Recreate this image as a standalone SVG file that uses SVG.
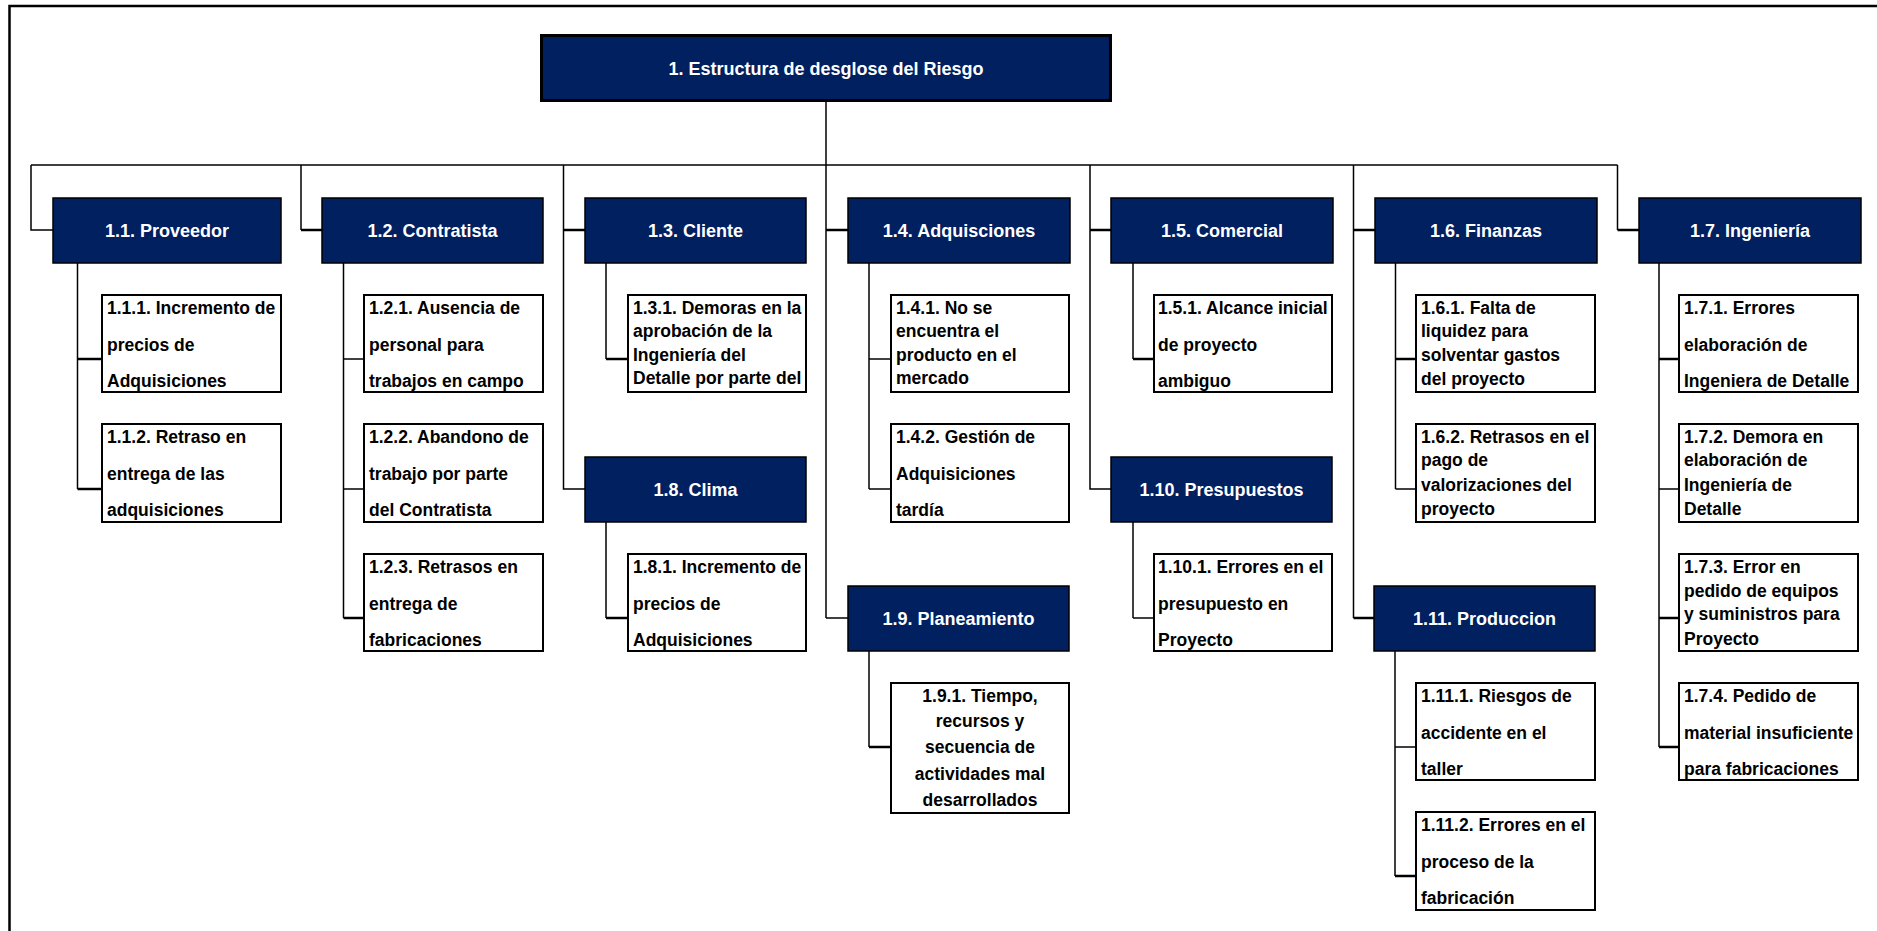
<svg xmlns="http://www.w3.org/2000/svg" width="1877" height="931" viewBox="0 0 1877 931">
<style>
.frame{fill:none;stroke:#000;stroke-width:2.5}
.root{fill:#002060;stroke:#000;stroke-width:3}
.hdr{fill:#002060;stroke:#000;stroke-width:1.5}
.box{fill:#fff;stroke:#000;stroke-width:2}
.ht{font-family:"Liberation Sans",Arial,sans-serif;font-weight:bold;font-size:18px;fill:#fff;text-anchor:middle}
.ct{font-family:"Liberation Sans",Arial,sans-serif;font-weight:bold;font-size:17.5px;fill:#000}
.cc{text-anchor:middle}
.ln{fill:none;stroke:#000;stroke-width:1.5}
.st{fill:none;stroke:#000;stroke-width:2.5}
</style>
<rect width="1877" height="931" fill="#fff"/>
<rect class="frame" x="9.5" y="6" width="1900" height="1000"/>
<g id="connectors">
<path class="ln" d="M826 102V618"/>
<path class="ln" d="M31 165H1617.5"/>
<path class="ln" d="M31 165V230H53"/>
<path class="ln" d="M301 165V230"/><path class="st" d="M301 230H322"/>
<path class="ln" d="M563.5 165V489H585"/><path class="st" d="M563.5 230H585"/>
<path class="st" d="M826 230H848"/><path class="ln" d="M826 618H848"/>
<path class="ln" d="M1090 165V489H1111"/><path class="st" d="M1090 230H1111"/>
<path class="ln" d="M1353.5 165V618"/><path class="st" d="M1353.5 230H1375"/><path class="st" d="M1353.5 618H1374"/>
<path class="ln" d="M1617.5 165V230"/><path class="st" d="M1617.5 230H1639"/>
<path class="ln" d="M77.5 263V489"/><path class="st" d="M77.5 359H102"/><path class="st" d="M77.5 489H102"/>
<path class="ln" d="M343.5 263V618"/><path class="ln" d="M343.5 359H364"/><path class="ln" d="M343.5 489H364"/><path class="st" d="M343.5 618H364"/>
<path class="ln" d="M606 263V359"/><path class="st" d="M606 359H628"/>
<path class="ln" d="M606 522V618"/><path class="st" d="M606 618H628"/>
<path class="ln" d="M869 263V489"/><path class="ln" d="M869 359H891"/><path class="ln" d="M869 489H891"/>
<path class="ln" d="M869 651V747"/><path class="st" d="M869 747H891"/>
<path class="ln" d="M1133 263V359"/><path class="st" d="M1133 359H1154"/>
<path class="ln" d="M1133 522V618"/><path class="ln" d="M1133 618H1154"/>
<path class="ln" d="M1395.5 263V489"/><path class="st" d="M1395.5 359H1416"/><path class="ln" d="M1395.5 489H1416"/>
<path class="ln" d="M1395 651V876"/><path class="ln" d="M1395 747H1416"/><path class="st" d="M1395 876H1416"/>
<path class="ln" d="M1659 263V747"/><path class="st" d="M1659 359H1679"/><path class="ln" d="M1659 489H1679"/><path class="st" d="M1659 618H1679"/><path class="st" d="M1659 747H1679"/>
</g>
<g id="n1"><rect class="root" x="541.5" y="35.5" width="569" height="65"/><text class="ht" x="826" y="75">1. Estructura de desglose del Riesgo</text></g>
<g id="n1-1"><rect class="hdr" x="53" y="198" width="228" height="65"/><text class="ht" x="167" y="237">1.1. Proveedor</text></g>
<g id="n1-2"><rect class="hdr" x="322" y="198" width="221" height="65"/><text class="ht" x="432.5" y="237">1.2. Contratista</text></g>
<g id="n1-3"><rect class="hdr" x="585" y="198" width="221" height="65"/><text class="ht" x="695.5" y="237">1.3. Cliente</text></g>
<g id="n1-4"><rect class="hdr" x="848" y="198" width="222" height="65"/><text class="ht" x="959" y="237">1.4. Adquisciones</text></g>
<g id="n1-5"><rect class="hdr" x="1111" y="198" width="222" height="65"/><text class="ht" x="1222" y="237">1.5. Comercial</text></g>
<g id="n1-6"><rect class="hdr" x="1375" y="198" width="222" height="65"/><text class="ht" x="1486" y="237">1.6. Finanzas</text></g>
<g id="n1-7"><rect class="hdr" x="1639" y="198" width="222" height="65"/><text class="ht" x="1750" y="237">1.7. Ingeniería</text></g>
<g id="n1-8"><rect class="hdr" x="585" y="457" width="221" height="65"/><text class="ht" x="695.5" y="496">1.8. Clima</text></g>
<g id="n1-9"><rect class="hdr" x="848" y="586" width="221" height="65"/><text class="ht" x="958.5" y="625">1.9. Planeamiento</text></g>
<g id="n1-10"><rect class="hdr" x="1111" y="457" width="221" height="65"/><text class="ht" x="1221.5" y="496">1.10. Presupuestos</text></g>
<g id="n1-11"><rect class="hdr" x="1374" y="586" width="221" height="65"/><text class="ht" x="1484.5" y="625">1.11. Produccion</text></g>

<g id="n1-1-1"><rect class="box" x="102" y="295" width="179" height="97"/><text class="ct" x="107"><tspan x="107" y="314">1.1.1. Incremento de</tspan><tspan x="107" y="350.5">precios de</tspan><tspan x="107" y="387">Adquisiciones</tspan></text></g>
<g id="n1-1-2"><rect class="box" x="102" y="424" width="179" height="98"/><text class="ct"><tspan x="107" y="443">1.1.2. Retraso en</tspan><tspan x="107" y="479.5">entrega de las</tspan><tspan x="107" y="516">adquisiciones</tspan></text></g>
<g id="n1-2-1"><rect class="box" x="364" y="295" width="179" height="97"/><text class="ct"><tspan x="369" y="314">1.2.1. Ausencia de</tspan><tspan x="369" y="350.5">personal para</tspan><tspan x="369" y="387">trabajos en campo</tspan></text></g>
<g id="n1-2-2"><rect class="box" x="364" y="424" width="179" height="98"/><text class="ct"><tspan x="369" y="443">1.2.2. Abandono de</tspan><tspan x="369" y="479.5">trabajo por parte</tspan><tspan x="369" y="516">del Contratista</tspan></text></g>
<g id="n1-2-3"><rect class="box" x="364" y="554" width="179" height="97"/><text class="ct"><tspan x="369" y="573">1.2.3. Retrasos en</tspan><tspan x="369" y="609.5">entrega de</tspan><tspan x="369" y="646">fabricaciones</tspan></text></g>
<g id="n1-3-1"><rect class="box" x="628" y="295" width="178" height="97"/><text class="ct"><tspan x="633" y="314">1.3.1. Demoras en la</tspan><tspan x="633" y="337">aprobación de la</tspan><tspan x="633" y="360.5">Ingeniería del</tspan><tspan x="633" y="384">Detalle por parte del</tspan></text></g>
<g id="n1-8-1"><rect class="box" x="628" y="554" width="178" height="97"/><text class="ct"><tspan x="633" y="573">1.8.1. Incremento de</tspan><tspan x="633" y="609.5">precios de</tspan><tspan x="633" y="646">Adquisiciones</tspan></text></g>
<g id="n1-4-1"><rect class="box" x="891" y="295" width="178" height="97"/><text class="ct"><tspan x="896" y="314">1.4.1. No se</tspan><tspan x="896" y="337">encuentra el</tspan><tspan x="896" y="360.5">producto en el</tspan><tspan x="896" y="384">mercado</tspan></text></g>
<g id="n1-4-2"><rect class="box" x="891" y="424" width="178" height="98"/><text class="ct"><tspan x="896" y="443">1.4.2. Gestión de</tspan><tspan x="896" y="479.5">Adquisiciones</tspan><tspan x="896" y="516">tardía</tspan></text></g>
<g id="n1-9-1"><rect class="box" x="891" y="683" width="178" height="130"/><text class="ct cc"><tspan x="980" y="702">1.9.1. Tiempo,</tspan><tspan x="980" y="727">recursos y</tspan><tspan x="980" y="753">secuencia de</tspan><tspan x="980" y="779.5">actividades mal</tspan><tspan x="980" y="806">desarrollados</tspan></text></g>
<g id="n1-5-1"><rect class="box" x="1154" y="295" width="178" height="97"/><text class="ct"><tspan x="1158" y="314">1.5.1. Alcance inicial</tspan><tspan x="1158" y="350.5">de proyecto</tspan><tspan x="1158" y="387">ambiguo</tspan></text></g>
<g id="n1-10-1"><rect class="box" x="1154" y="554" width="178" height="97"/><text class="ct"><tspan x="1158" y="573">1.10.1. Errores en el</tspan><tspan x="1158" y="609.5">presupuesto en</tspan><tspan x="1158" y="646">Proyecto</tspan></text></g>
<g id="n1-6-1"><rect class="box" x="1416" y="295" width="179" height="97"/><text class="ct"><tspan x="1421" y="314">1.6.1. Falta de</tspan><tspan x="1421" y="337">liquidez para</tspan><tspan x="1421" y="361">solventar gastos</tspan><tspan x="1421" y="385">del proyecto</tspan></text></g>
<g id="n1-6-2"><rect class="box" x="1416" y="424" width="179" height="98"/><text class="ct"><tspan x="1421" y="443">1.6.2. Retrasos en el</tspan><tspan x="1421" y="466">pago de</tspan><tspan x="1421" y="490.5">valorizaciones del</tspan><tspan x="1421" y="514.5">proyecto</tspan></text></g>
<g id="n1-11-1"><rect class="box" x="1416" y="683" width="179" height="97"/><text class="ct"><tspan x="1421" y="702">1.11.1. Riesgos de</tspan><tspan x="1421" y="738.5">accidente en el</tspan><tspan x="1421" y="775">taller</tspan></text></g>
<g id="n1-11-2"><rect class="box" x="1416" y="812" width="179" height="98"/><text class="ct"><tspan x="1421" y="831">1.11.2. Errores en el</tspan><tspan x="1421" y="867.5">proceso de la</tspan><tspan x="1421" y="904">fabricación</tspan></text></g>
<g id="n1-7-1"><rect class="box" x="1679" y="295" width="179" height="97"/><text class="ct"><tspan x="1684" y="314">1.7.1. Errores</tspan><tspan x="1684" y="350.5">elaboración de</tspan><tspan x="1684" y="387">Ingeniera de Detalle</tspan></text></g>
<g id="n1-7-2"><rect class="box" x="1679" y="424" width="179" height="98"/><text class="ct"><tspan x="1684" y="443">1.7.2. Demora en</tspan><tspan x="1684" y="466">elaboración de</tspan><tspan x="1684" y="490.5">Ingeniería de</tspan><tspan x="1684" y="514.5">Detalle</tspan></text></g>
<g id="n1-7-3"><rect class="box" x="1679" y="554" width="179" height="97"/><text class="ct"><tspan x="1684" y="573">1.7.3. Error en</tspan><tspan x="1684" y="596.5">pedido de equipos</tspan><tspan x="1684" y="620">y suministros para</tspan><tspan x="1684" y="645">Proyecto</tspan></text></g>
<g id="n1-7-4"><rect class="box" x="1679" y="683" width="179" height="97"/><text class="ct"><tspan x="1684" y="702">1.7.4. Pedido de</tspan><tspan x="1684" y="738.5">material insuficiente</tspan><tspan x="1684" y="775">para fabricaciones</tspan></text></g>
</svg>
